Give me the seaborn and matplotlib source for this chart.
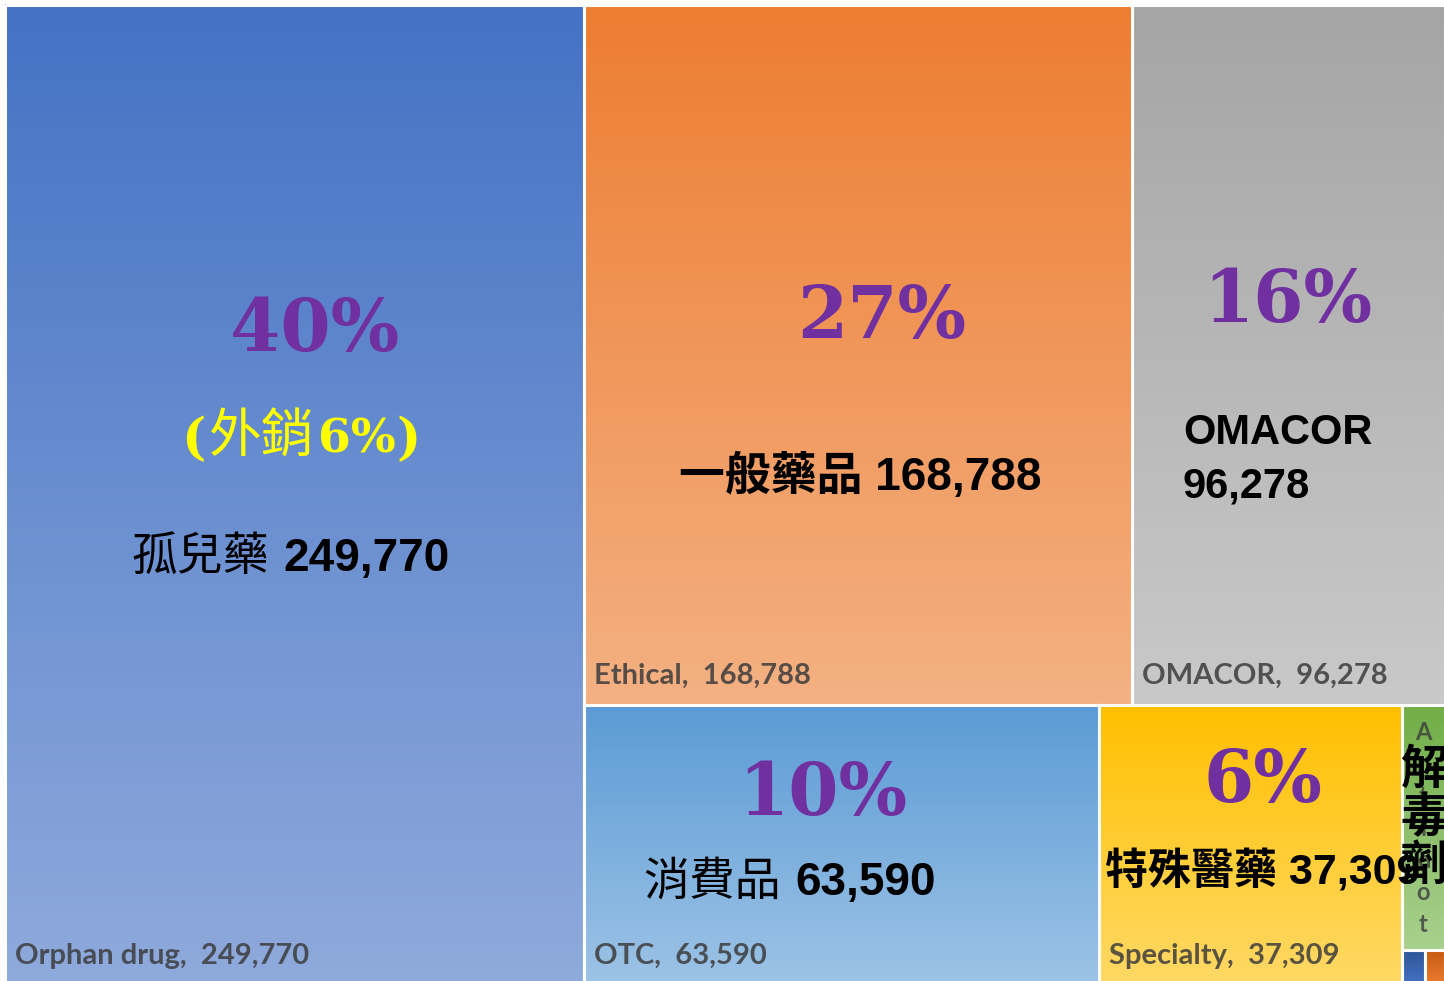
import numpy as np
import matplotlib
matplotlib.use("Agg")
import matplotlib.pyplot as plt
from matplotlib.colors import LinearSegmentedColormap
from matplotlib.patches import Rectangle
import seaborn as sns

# =============================================
# Data (sales, thousand)
names = ['Orphan drug', 'Ethical', 'OMACOR', 'OTC', 'Specialty', 'Antidote', 'Small A', 'Small B']
values = [249770, 168788, 96278, 63590, 37309, 4672, 356, 309]
zh_names = ['孤兒藥', '一般藥品', 'OMACOR', '消費品', '特殊醫藥', '解毒劑', '', '']
shares = ['40%', '27%', '16%', '10%', '6%', '', '', '']
top_colors = ['#4472C4', '#ED7D31', '#A5A5A5', '#5B9BD5', '#FFC000', '#70AD47', '#2F5597', '#C55A11']
bot_colors = ['#8FAADC', '#F4B183', '#C9C9C9', '#9DC3E6', '#FFD966', '#A9D18E', '#4472C4', '#ED7D31']

sns.set_theme(style="white")
plt.rcParams['font.family'] = ['Liberation Sans', 'Noto Sans CJK TC', 'DejaVu Sans']

W, H = 1440, 980  # treemap canvas


def layout(vals):
    """Excel-like layout: first item a full-height column, next two a top row,
    the rest a bottom row where the tail is stacked in a thin column."""
    total = sum(vals)
    rects = []
    w0 = vals[0] / total * W
    rects.append((0, 0, w0, H))
    rest = total - vals[0]
    rw = W - w0
    top = vals[1] + vals[2]
    th = top / rest * H
    x = w0
    for v in vals[1:3]:
        w = v / top * rw
        rects.append((x, 0, w, th))
        x += w
    bot = rest - top
    bh = H - th
    x = w0
    for v in vals[3:5]:
        w = v / bot * rw
        rects.append((x, th, w, bh))
        x += w
    tail = sum(vals[5:])
    cw = W - x
    ah = vals[5] / tail * bh
    rects.append((x, th, cw, ah))
    small = sum(vals[6:])
    sx = x
    for v in vals[6:]:
        w = v / small * cw
        rects.append((sx, th + ah, w, bh - ah))
        sx += w
    return rects


rects = layout(values)

fig = plt.figure(figsize=(14.44, 9.81), dpi=100)
ax = fig.add_axes([0, 0, 1, 1])
ax.set_xlim(-5, 1439)
ax.set_ylim(976, -5)
ax.axis('off')

grad = np.linspace(0, 1, 256).reshape(-1, 1)
for (x0, y0, w, h), c1, c2 in zip(rects, top_colors, bot_colors):
    cmap = LinearSegmentedColormap.from_list('g', [c1, c2])
    ax.imshow(grad, cmap=cmap, extent=(x0, x0 + w, y0 + h, y0), aspect='auto',
              origin='upper', interpolation='bilinear', zorder=1)
    ax.add_patch(Rectangle((x0, y0), w, h, fill=False, edgecolor='white', lw=2.2, zorder=2))

# category labels in the bottom-left corner of each tile
label_font = dict(fontsize=21, color='#3c3c3c', alpha=0.85, fontfamily='Lato', fontweight='bold',
                  ha='left', va='center', zorder=3)
for i in range(5):
    x0, y0, w, h = rects[i]
    ax.text(x0 + 10, y0 + h - 29, '{},  {:,}'.format(names[i], values[i]), **label_font)

# antidote label wrapped letter by letter
x0, y0, w, h = rects[5]
for k, ch in enumerate('Antidot'):
    ax.text(x0 + w / 2, 728 + 32 * k, ch, fontsize=17, color='#3c3c3c', alpha=0.8,
            fontfamily='Lato', fontweight='bold', ha='center', va='center', zorder=3)

# percent shares
pct_font = dict(fontsize=52, color='#7030A0', fontfamily='DejaVu Serif', fontweight='bold',
                ha='center', va='center', zorder=4)
pct_pos = [(310, 326), (877, 313), (1283, 297), (818, 790), (1258, 777)]
for (px, py), s in zip(pct_pos, shares[:5]):
    ax.text(px, py, s, **pct_font)

# Chinese names with values
big_font = dict(fontsize=33, color='black', fontweight='bold', ha='center', va='center', zorder=4,
                fontfamily=['Liberation Sans', 'Noto Sans CJK TC'])
ax.text(264, 554, zh_names[0], **dict(big_font, ha='right', fontweight='medium'))
ax.text(278, 554, '{:,}'.format(values[0]), **dict(big_font, ha='left'))
ax.text(855, 472, '{} {:,}'.format(zh_names[1], values[1]), **big_font)
ax.text(776, 878, zh_names[3], **dict(big_font, ha='right', fontweight='medium'))
ax.text(790, 878, '{:,}'.format(values[3]), **dict(big_font, ha='left'))
ax.text(1258, 866, '{} {:,}'.format(zh_names[4], values[4]), **dict(big_font, fontsize=31))
ax.text(1178, 455, '{}\n{:,}'.format(zh_names[2], values[2]), linespacing=1.45,
        **dict(big_font, fontsize=30, ha='left'))
ax.text(1419, 813, '\n'.join(zh_names[5]), linespacing=1.0, fontsize=34, color='black',
        ha='center', va='center', fontfamily='Noto Sans CJK TC', fontweight='bold', zorder=5)

# export share in yellow
ax.text(200, 449, '(', fontsize=37, color='#FFFF00', fontfamily='DejaVu Serif', fontweight='bold',
        ha='right', va='baseline', zorder=4)
ax.text(257, 448, '外銷', fontsize=38, color='#FFFF00', fontfamily='Noto Sans CJK TC',
        fontweight='medium', ha='center', va='baseline', zorder=4)
ax.text(313, 448, '6%', fontsize=34, color='#FFFF00', fontfamily='DejaVu Serif', fontweight='bold',
        ha='left', va='baseline', zorder=4)
ax.text(416, 449, ')', fontsize=37, color='#FFFF00', fontfamily='DejaVu Serif', fontweight='bold',
        ha='right', va='baseline', zorder=4)

fig.savefig('out.png', dpi=100)
